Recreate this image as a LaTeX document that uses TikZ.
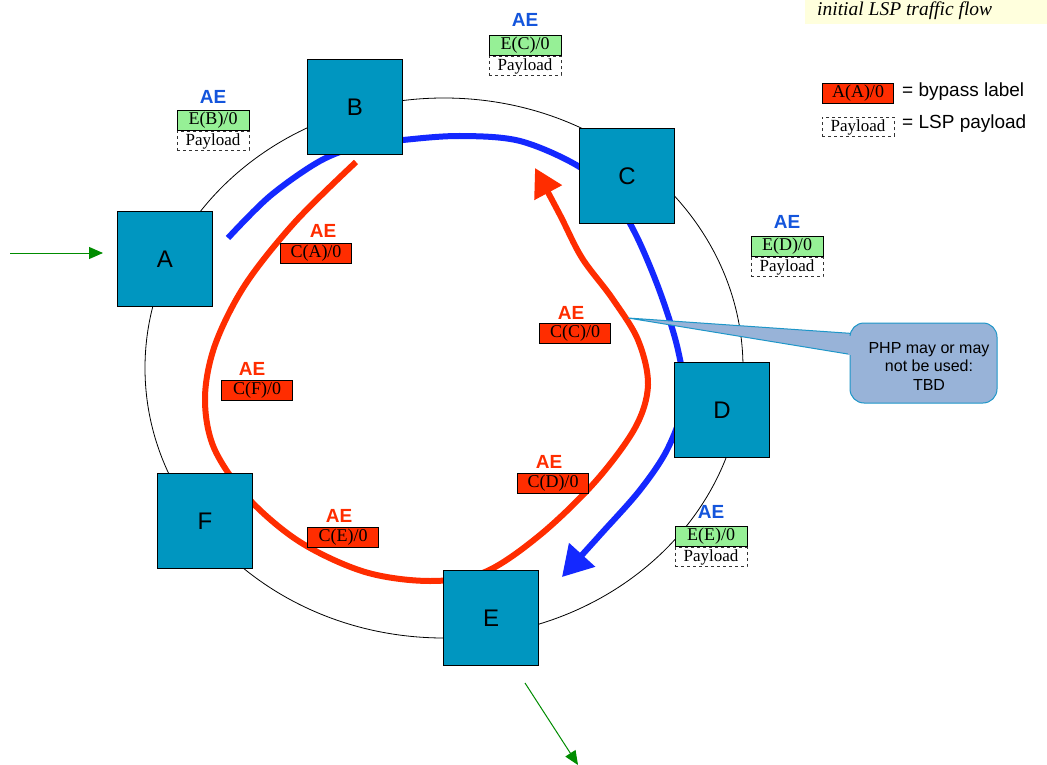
\documentclass[tikz,border=0pt]{standalone}
\usepackage{fontspec}
\setmainfont{Liberation Serif}
\newfontfamily\arial{Liberation Sans}
\usetikzlibrary{arrows.meta}
\definecolor{teal1}{RGB}{0,150,192}
\definecolor{lgreen}{RGB}{150,240,150}
\definecolor{rred}{RGB}{255,45,0}
\definecolor{aeblue}{RGB}{20,85,220}
\definecolor{lineblue}{RGB}{20,40,255}
\definecolor{ggreen}{RGB}{0,140,0}
\definecolor{calfill}{RGB}{152,179,216}
\definecolor{caledge}{RGB}{30,150,200}
\definecolor{lyellow}{RGB}{255,255,221}
\tikzset{
  sq/.style={draw=black, fill=teal1, line width=1pt, minimum size=95pt, inner sep=0pt, font=\arial\fontsize{24}{28}\selectfont},
  ae/.style={inner sep=0pt, font=\arial\bfseries\fontsize{19}{22}\selectfont},
  elbl/.style={draw=black, line width=0.8pt, fill=lgreen, minimum width=72pt, minimum height=20pt, inner sep=0pt, font=\fontsize{18}{20}\selectfont},
  rlbl/.style={draw=black, line width=0.8pt, fill=rred, minimum width=71pt, minimum height=20pt, inner sep=0pt, font=\fontsize{18}{20}\selectfont},
  pay/.style={draw=black!80, dashed, line width=0.8pt, minimum width=72pt, minimum height=19pt, inner sep=0pt, font=\fontsize{17}{20}\selectfont},
  legtxt/.style={anchor=west, inner sep=0pt, font=\arial\fontsize{19}{22}\selectfont},
  thick line/.style={line width=6pt},
  garrow/.style={draw=ggreen, line width=1pt, -{Triangle[length=14pt,width=12pt]}},
}
\begin{document}
\begin{tikzpicture}[x=1pt,y=-1pt]
\useasboundingbox (0,0) rectangle (1047,765);
\fill[white] (0,0) rectangle (1047,765);
% top right note
\fill[lyellow] (805,0) rectangle (1047,24);
\node[anchor=base west, inner sep=0pt, font=\itshape\fontsize{19.5}{24}\selectfont] (note) at (817,16) {initial LSP traffic flow};
% ring
\draw[black, line width=0.8pt] (444,368) ellipse [x radius=299, y radius=270];
% blue LSP
\draw[lineblue, thick line, -{Triangle[length=30pt,width=34pt]}]
  plot[smooth, tension=0.55] coordinates {(228,238) (270,196) (320,161) (360,146) (403,140) (460,136) (520,141) (578,166) (612,196) (636,235) (660,292) (678,350) (684,400) (668,448) (640,490) (600,535) (562,577)};
% red bypass
\draw[rred, thick line, -{Triangle[length=28pt,width=30pt]}]
  plot[smooth, tension=0.55] coordinates {(356,162) (295,222) (245,285) (215,345) (205,398) (214,448) (248,498) (300,542) (365,572) (430,581) (485,572) (540,535) (595,482) (635,428) (648,385) (638,340) (612,298) (582,258) (560,215) (535,168)};
% squares
\node[sq] (A) at (165,259) {A};
\node[sq] (B) at (355,107) {B};
\node[sq] (C) at (627,176) {C};
\node[sq] (D) at (722,410) {D};
\node[sq] (F) at (205,521) {F};
\node[sq] (E) at (491,618) {E};
% green in/out
\coordinate (in0) at (10,253);
\coordinate (out1) at (525,683);
\coordinate (out2) at (578,765);
\draw[garrow] (in0) -- ([xshift=-14pt]A.west |- in0);
\draw[garrow] (out1) -- (out2);
% blue labels
\node[ae, text=aeblue] (aeB) at (213,97) {AE};
\node[elbl] (eB) at (213,120) {E(B)/0};
\node[pay] (pB) at (213,141) {Payload};
\node[ae, text=aeblue] (aeC) at (525,20) {AE};
\node[elbl] (eC) at (525,45) {E(C)/0};
\node[pay] (pC) at (525,66) {Payload};
\node[ae, text=aeblue] (aeD) at (787,222) {AE};
\node[elbl] (eD) at (787,246) {E(D)/0};
\node[pay] (pD) at (787,267) {Payload};
\node[ae, text=aeblue] (aeE) at (711,512) {AE};
\node[elbl] (eE) at (711,536) {E(E)/0};
\node[pay] (pE) at (711,557) {Payload};
% red labels
\node[ae, text=rred] (raA) at (323,231) {AE};
\node[rlbl] (cA) at (316,253) {C(A)/0};
\node[ae, text=rred] (raC) at (571,313) {AE};
\node[rlbl] (cC) at (575,333) {C(C)/0};
\node[ae, text=rred] (raF) at (252,369) {AE};
\node[rlbl] (cF) at (257,390) {C(F)/0};
\node[ae, text=rred] (raD) at (549,462) {AE};
\node[rlbl] (cD) at (553,483) {C(D)/0};
\node[ae, text=rred] (raE) at (339,516) {AE};
\node[rlbl] (cE) at (343,537) {C(E)/0};
% legend
\node[rlbl] (legR) at (858,93) {A(A)/0};
\node[legtxt] (legRt) at (902,92) {= bypass label};
\node[pay] (legP) at (858,127) {Payload};
\node[legtxt] (legPt) at (902,124) {= LSP payload};
% callout
\coordinate (tip) at (628,318);
\draw[caledge, fill=calfill, line width=1pt] (tip) -- (860,334) -- (860,356) -- cycle;
\node[draw=caledge, fill=calfill, line width=1pt, rounded corners=14pt, minimum width=147pt, minimum height=80pt, inner sep=0pt] (call) at (923.5,363) {};
\fill[calfill] (848,335.5) -- (856,335.5) -- (856,354.5) -- (848,354.5) -- cycle;
\node[align=center, inner sep=0pt, font=\arial\fontsize{16}{18.5}\selectfont] (calltxt) at (929,366) {PHP may or may\\not be used:\\TBD};
\end{tikzpicture}
\end{document}
